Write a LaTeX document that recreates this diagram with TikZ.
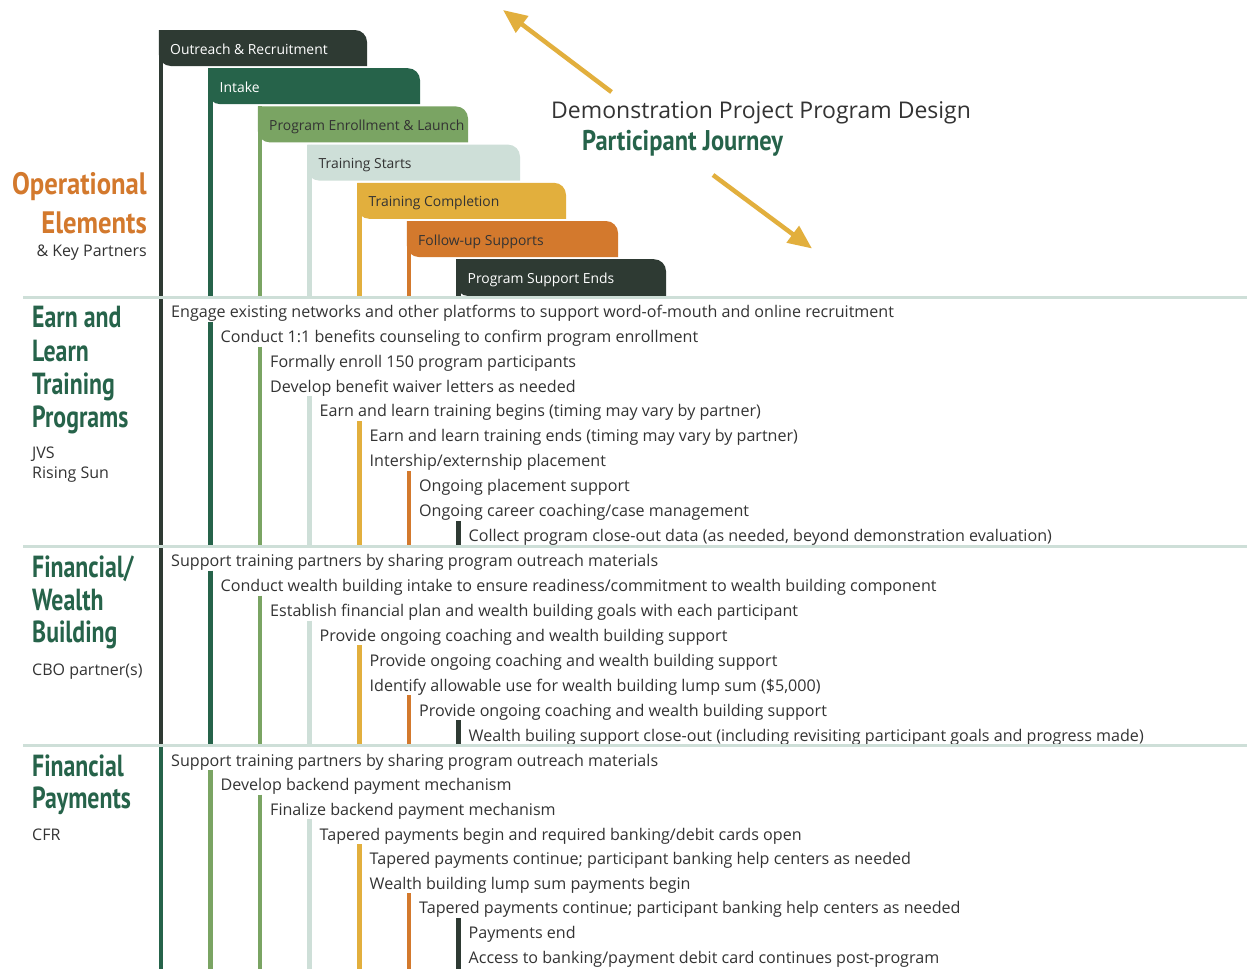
\documentclass[tikz,border=0pt]{standalone}
\usepackage{fontspec}
\setmainfont{Open Sans}
\newfontfamily\headfont[FakeStretch=0.78]{PT Sans}
\newfontfamily\wideheadfont[FakeStretch=0.86]{PT Sans}
\usetikzlibrary{arrows.meta}

\definecolor{pjdark}{RGB}{46,58,51}
\definecolor{pjgreen}{RGB}{38,99,74}
\definecolor{pjleaf}{RGB}{122,164,99}
\definecolor{pjpale}{RGB}{206,223,216}
\definecolor{pjgold}{RGB}{226,175,61}
\definecolor{pjorange}{RGB}{211,121,45}
\definecolor{pjtext}{RGB}{51,51,51}

\tikzset{
  row/.style={anchor=base west,inner sep=0pt,text=pjtext,font=\fontsize{16.1}{19}\selectfont},
  tabtext/.style={anchor=base west,inner sep=0pt,font=\fontsize{13.9}{16}\selectfont},
  head/.style={anchor=base west,inner sep=0pt,text=pjgreen,font=\headfont\bfseries\fontsize{30.5}{33}\selectfont},
  bighead/.style={inner sep=0pt,font=\wideheadfont\bfseries\fontsize{31}{34}\selectfont},
  partner/.style={anchor=base west,inner sep=0pt,text=pjtext,font=\fontsize{16}{19}\selectfont},
  bar/.style={line width=4.5pt},
  rule/.style={line width=3pt,pjpale},
  journey/.style={line width=4.5pt,pjgold,-{Triangle[length=24pt,width=20pt]}}
}

\begin{document}
\begin{tikzpicture}[x=1pt,y=-1pt]
\fill[white] (0,0) rectangle (1247,969);
\useasboundingbox (0,0) rectangle (1247,969);

%title
\node[anchor=base west,inner sep=0pt,text=pjtext,font=\fontsize{23}{27}\selectfont] (title) at (551,118.3) {Demonstration Project Program Design};
\node[bighead,anchor=base west,text=pjgreen,font=\wideheadfont\bfseries\fontsize{28.5}{31}\selectfont] (journeytitle) at (582,150) {Participant Journey};
\coordinate (upstart) at (611.5,92);
\coordinate (upend) at (503,10);
\coordinate (downstart) at (713,175);
\coordinate (downend) at (812,248.5);
\draw[journey] (upstart) -- (upend);
\draw[journey] (downstart) -- (downend);

%labels
\node[bighead,anchor=base east,text=pjorange] (oplabel) at (147,194) {Operational};
\node[bighead,anchor=base east,text=pjorange] (ellabel) at (147,233) {Elements};
\node[anchor=base east,inner sep=0pt,text=pjtext,font=\fontsize{16}{19}\selectfont] (keylabel) at (147,256) {\& Key Partners};

\node[head] (earnhead1) at (32,327.7) {Earn and};
\node[head] (earnhead2) at (32,361) {Learn};
\node[head] (earnhead3) at (32,394.3) {Training};
\node[head] (earnhead4) at (32,427.7) {Programs};
\node[partner] (earnpartner1) at (32,458.3) {JVS};
\node[partner] (earnpartner2) at (32,478.3) {Rising Sun};

\node[head] (wealthhead1) at (32,577.3) {Financial/};
\node[head] (wealthhead2) at (32,610) {Wealth};
\node[head] (wealthhead3) at (32,642.7) {Building};
\node[partner] (wealthpartner) at (32,675) {CBO partner(s)};

\node[head] (payhead1) at (32,776) {Financial};
\node[head] (payhead2) at (32,808.3) {Payments};
\node[partner] (paypartner) at (32,840) {CFR};

%bars under the phase tabs
\draw[bar,pjdark] (161,30) -- (161,745);
\draw[bar,pjgreen] (210.5,68.2) -- (210.5,297);
\draw[bar,pjleaf] (260,106.4) -- (260,297);
\draw[bar,pjpale] (309.5,144.6) -- (309.5,297);
\draw[bar,pjgold] (359.5,182.8) -- (359.5,297);
\draw[bar,pjorange] (409,221) -- (409,297);
\draw[bar,pjdark] (458.5,259.2) -- (458.5,297);

%phase tabs
\fill[pjdark] (158.75,30) -- (355,30) arc[start angle=-90,end angle=0,radius=12] -- (367,66) -- (170.75,66) arc[start angle=90,end angle=180,radius=12] -- cycle;
\fill[pjgreen] (208.25,68.2) -- (408,68.2) arc[start angle=-90,end angle=0,radius=12] -- (420,104.2) -- (220.25,104.2) arc[start angle=90,end angle=180,radius=12] -- cycle;
\fill[pjleaf] (257.75,106.4) -- (456,106.4) arc[start angle=-90,end angle=0,radius=12] -- (468,142.4) -- (269.75,142.4) arc[start angle=90,end angle=180,radius=12] -- cycle;
\fill[pjpale] (307.25,144.6) -- (508,144.6) arc[start angle=-90,end angle=0,radius=12] -- (520,180.6) -- (319.25,180.6) arc[start angle=90,end angle=180,radius=12] -- cycle;
\fill[pjgold] (357.25,182.8) -- (554,182.8) arc[start angle=-90,end angle=0,radius=12] -- (566,218.8) -- (369.25,218.8) arc[start angle=90,end angle=180,radius=12] -- cycle;
\fill[pjorange] (406.75,221) -- (606,221) arc[start angle=-90,end angle=0,radius=12] -- (618,257) -- (418.75,257) arc[start angle=90,end angle=180,radius=12] -- cycle;
\fill[pjdark] (456.25,259.2) -- (654,259.2) arc[start angle=-90,end angle=0,radius=12] -- (666,296) -- (468.25,296) arc[start angle=90,end angle=180,radius=12] -- cycle;

\node[tabtext,text=white] (outreach) at (170,54) {Outreach \& Recruitment};
\node[tabtext,text=white] (intake) at (219.5,92.2) {Intake};
\node[tabtext,text=pjtext] (enrollment) at (269,130.4) {Program Enrollment \& Launch};
\node[tabtext,text=pjtext] (trainstart) at (318.5,168.6) {Training Starts};
\node[tabtext,text=pjtext] (traindone) at (368.5,206.8) {Training Completion};
\node[tabtext,text=pjtext] (followup) at (418,245) {Follow-up Supports};
\node[tabtext,text=white] (supportend) at (467.5,283.2) {Program Support Ends};

%earn and learn
\draw[bar,pjgreen] (210.5,321.7) -- (210.5,546);
\draw[bar,pjleaf] (260,346.6) -- (260,546);
\draw[bar,pjpale] (309.5,396.4) -- (309.5,546);
\draw[bar,pjgold] (359.5,421.3) -- (359.5,546);
\draw[bar,pjorange] (409,471.1) -- (409,546);
\draw[bar,pjdark] (458.5,521) -- (458.5,546);

\node[row] (earn1) at (171,317.3) {Engage existing networks and other platforms to support word-of-mouth and online recruitment};
\node[row] (earn2) at (220.5,342.2) {Conduct 1:1 benefits counseling to confirm program enrollment};
\node[row] (earn3) at (270,367.1) {Formally enroll 150 program participants};
\node[row] (earn4) at (270,392) {Develop benefit waiver letters as needed};
\node[row] (earn5) at (319.5,416.9) {Earn and learn training begins (timing may vary by partner)};
\node[row] (earn6) at (369.5,441.8) {Earn and learn training ends (timing may vary by partner)};
\node[row] (earn7) at (369.5,466.7) {Intership/externship placement};
\node[row] (earn8) at (419,491.6) {Ongoing placement support};
\node[row] (earn9) at (419,516.5) {Ongoing career coaching/case management};
\node[row] (earn10) at (468.5,541.4) {Collect program close-out data (as needed, beyond demonstration evaluation)};

%wealth building
\draw[bar,pjgreen] (210.5,570.7) -- (210.5,745);
\draw[bar,pjleaf] (260,595.6) -- (260,745);
\draw[bar,pjpale] (309.5,620.5) -- (309.5,745);
\draw[bar,pjgold] (359.5,645.4) -- (359.5,745);
\draw[bar,pjorange] (409,695.2) -- (409,745);
\draw[bar,pjdark] (458.5,720.1) -- (458.5,745);

\node[row] (wealth1) at (171,566.7) {Support training partners by sharing program outreach materials};
\node[row] (wealth2) at (220.5,591.6) {Conduct wealth building intake to ensure readiness/commitment to wealth building component};
\node[row] (wealth3) at (270,616.5) {Establish financial plan and wealth building goals with each participant};
\node[row] (wealth4) at (319.5,641.4) {Provide ongoing coaching and wealth building support};
\node[row] (wealth5) at (369.5,666.3) {Provide ongoing coaching and wealth building support};
\node[row] (wealth6) at (369.5,691.2) {Identify allowable use for wealth building lump sum (\$5,000)};
\node[row] (wealth7) at (419,716.1) {Provide ongoing coaching and wealth building support};
\node[row] (wealth8) at (468.5,741) {Wealth builing support close-out (including revisiting participant goals and progress made)};

%payments
\draw[bar,pjgreen] (161,745) -- (161,969);
\draw[bar,pjleaf] (210.5,770.1) -- (210.5,969);
\draw[bar,pjleaf] (260,794.7) -- (260,969);
\draw[bar,pjpale] (309.5,819.4) -- (309.5,969);
\draw[bar,pjgold] (359.5,844) -- (359.5,969);
\draw[bar,pjorange] (409,893.3) -- (409,969);
\draw[bar,pjdark] (458.5,918) -- (458.5,969);

\node[row] (pay1) at (171,766) {Support training partners by sharing program outreach materials};
\node[row] (pay2) at (220.5,790.7) {Develop backend payment mechanism};
\node[row] (pay3) at (270,815.3) {Finalize backend payment mechanism};
\node[row] (pay4) at (319.5,840) {Tapered payments begin and required banking/debit cards open};
\node[row] (pay5) at (369.5,864.6) {Tapered payments continue; participant banking help centers as needed};
\node[row] (pay6) at (369.5,889.3) {Wealth building lump sum payments begin};
\node[row] (pay7) at (419,913.9) {Tapered payments continue; participant banking help centers as needed};
\node[row] (pay8) at (468.5,938.6) {Payments end};
\node[row] (pay9) at (468.5,963.2) {Access to banking/payment debit card continues post-program};

%section rules
\draw[rule] (23,297) -- (1247,297);
\draw[rule] (23,546) -- (1247,546);
\draw[rule] (23,745) -- (1247,745);
\end{tikzpicture}
\end{document}
